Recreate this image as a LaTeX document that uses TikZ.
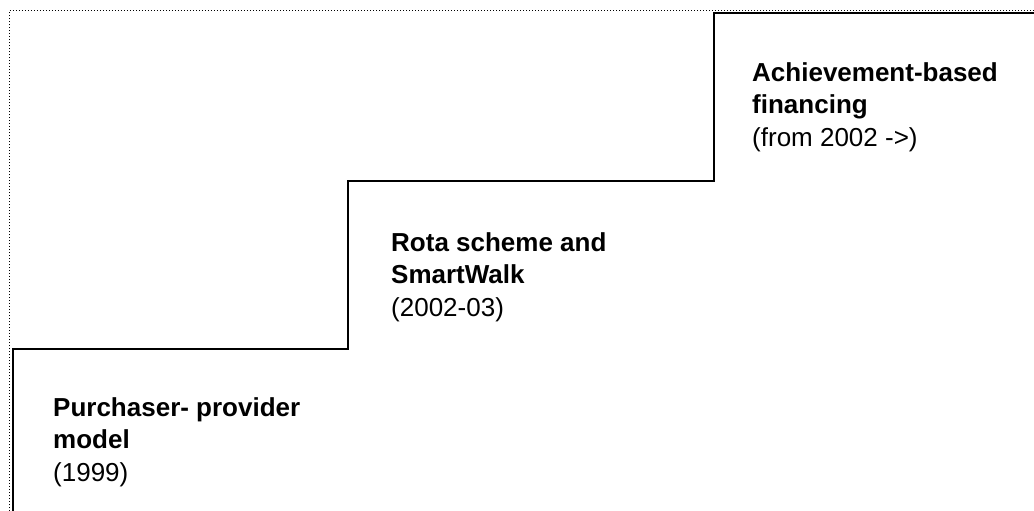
\documentclass[tikz,border=0pt]{standalone}
\usepackage{fontspec}
\setmainfont{Liberation Sans}
\begin{document}
\begin{tikzpicture}[x=1pt,y=-1pt,
  steptext/.style={anchor=base west,align=left,inner sep=0pt,
    font=\fontsize{26}{32.5}\selectfont},
  frameline/.style={line width=1.2pt,dash pattern=on 1.2pt off 1.8pt,black},
  stairline/.style={line width=2pt,black,line join=miter}]
  \useasboundingbox (0,0) rectangle (1034,511);
  % dotted frame along the top and left edges
  \coordinate (ftl) at (9.5,10.5);
  \coordinate (ftr) at (1034,10.5);
  \coordinate (fbl) at (9.5,511);
  \draw[frameline] (fbl) -- (ftl) -- (ftr);
  % staircase corners
  \coordinate (s0) at (13,511);
  \coordinate (s1) at (13,349);
  \coordinate (s2) at (348,349);
  \coordinate (s3) at (348,181);
  \coordinate (s4) at (714,181);
  \coordinate (s5) at (714,13);
  \coordinate (s6) at (1034,13);
  \draw[stairline] (s0) -- (s1) -- (s2) -- (s3) -- (s4) -- (s5) -- (s6);
  % labels on each step (anchored at the baseline of the last line)
  \node[steptext] (t1) at (53,481) {\textbf{Purchaser- provider}\\\textbf{model}\\(1999)};
  \node[steptext] (t2) at (391,316) {\textbf{Rota scheme and}\\\textbf{SmartWalk}\\(2002-03)};
  \node[steptext] (t3) at (752,146) {\textbf{Achievement-based}\\\textbf{financing}\\(from 2002 ->)};
\end{tikzpicture}
\end{document}
